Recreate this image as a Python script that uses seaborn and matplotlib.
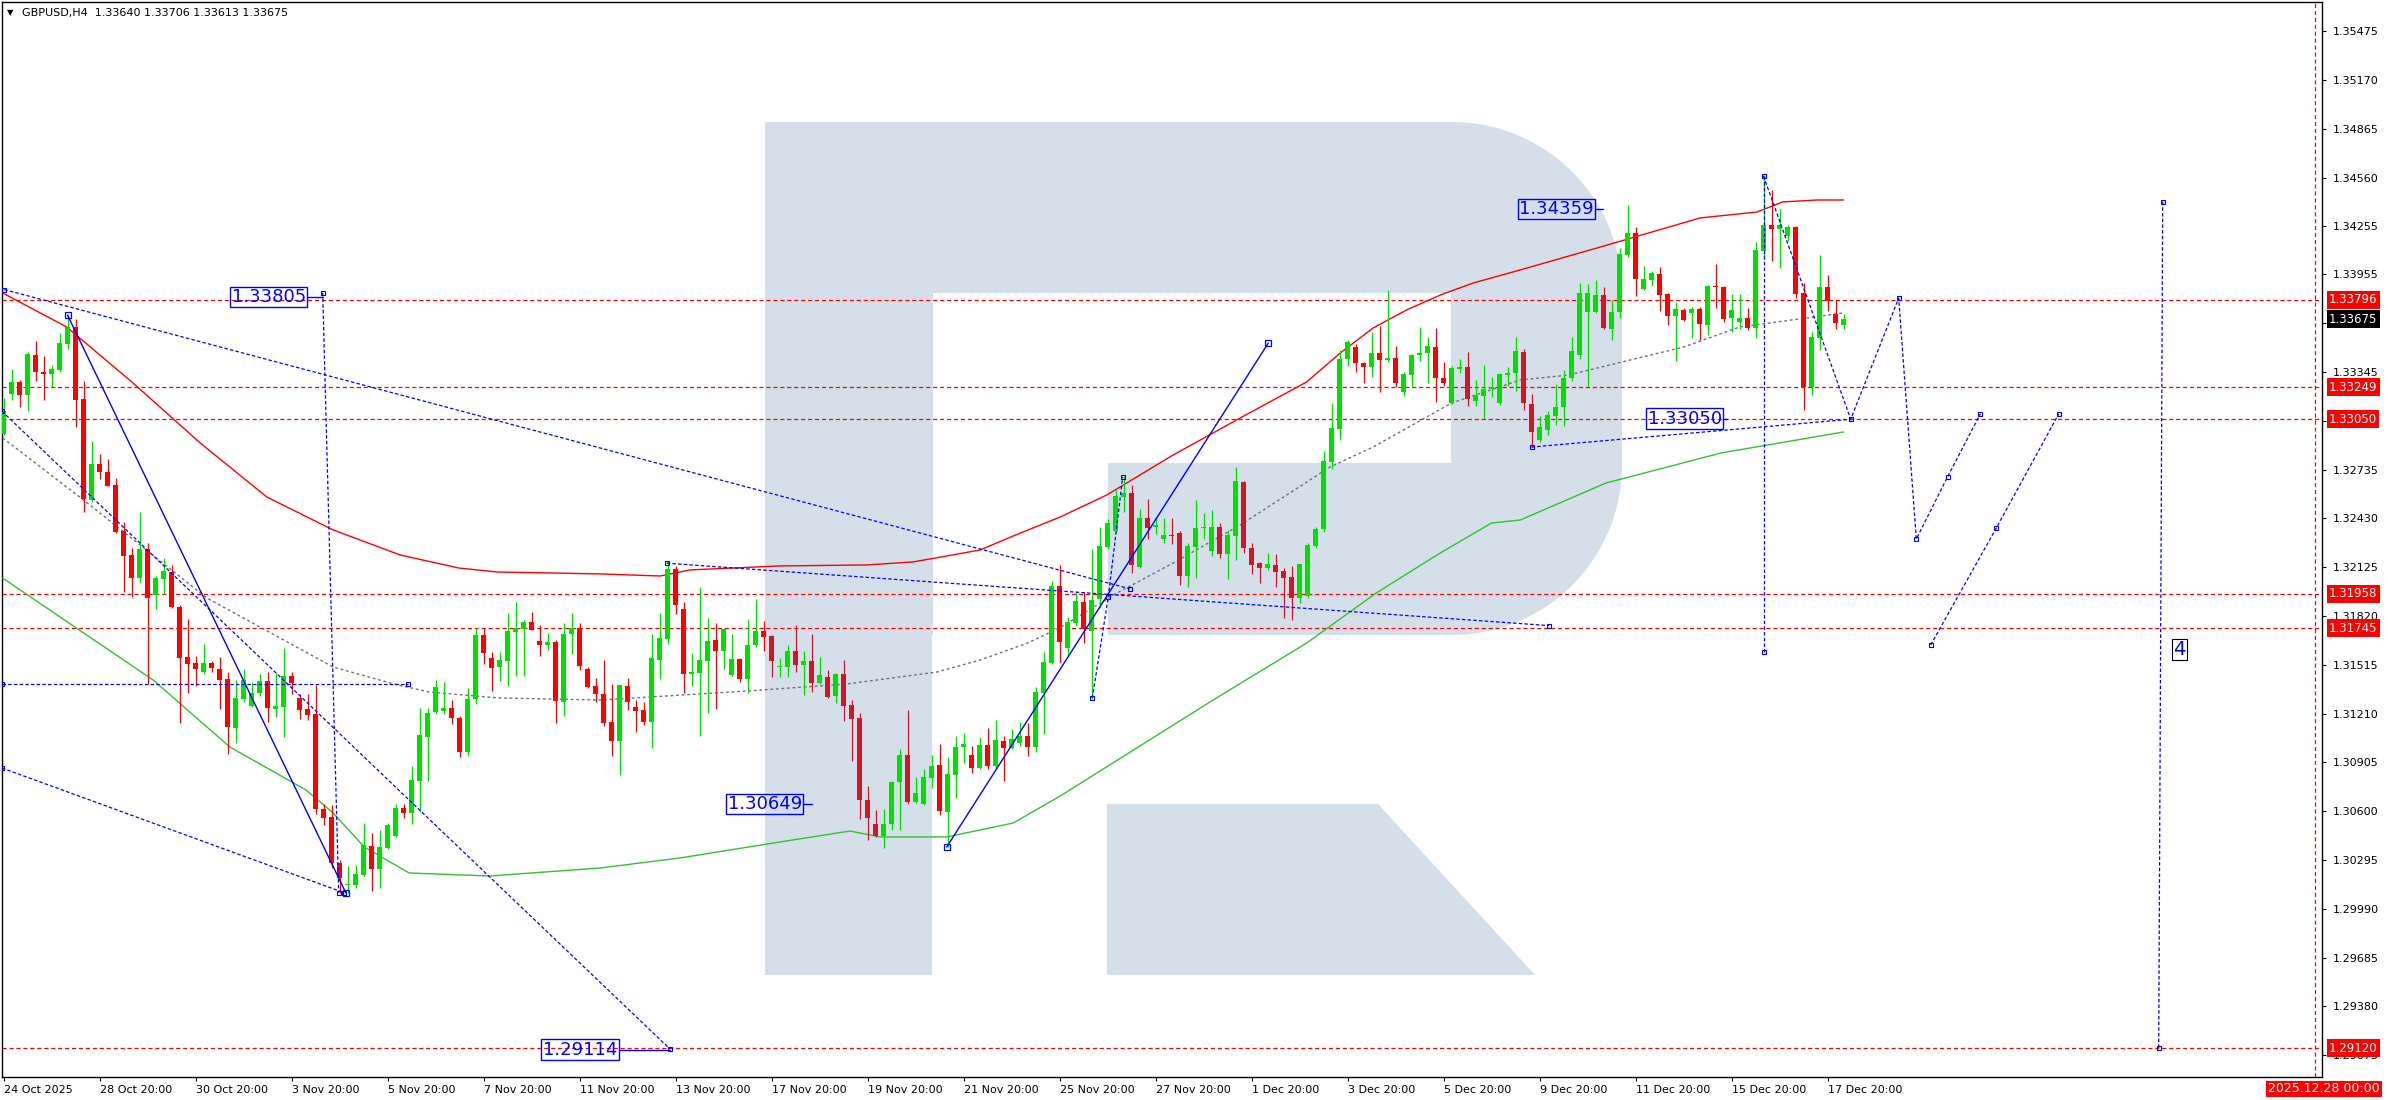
import numpy as np
import matplotlib
matplotlib.use("Agg")
import matplotlib.pyplot as plt
from matplotlib.patches import Rectangle, Polygon, Wedge
from matplotlib.path import Path
import seaborn as sns

# ---------------- data ----------------
opens = [1.32958, 1.33208, 1.33283, 1.33201, 1.33451, 1.33345, 1.33333, 1.33358, 1.33520, 1.33626,
         1.33176, 1.32545, 1.32770, 1.32720, 1.32639, 1.32351, 1.32201, 1.32058, 1.32239, 1.31951,
         1.32051, 1.32095, 1.31876, 1.31564, 1.31526, 1.31470, 1.31526, 1.31489, 1.31426, 1.31120,
         1.31301, 1.31258, 1.31339, 1.31414, 1.31239, 1.31251, 1.31445, 1.31308, 1.31239, 1.31208,
         1.30614, 1.30564, 1.30276, 1.30139, 1.30139, 1.30201, 1.30383, 1.30239, 1.30370, 1.30445,
         1.30620, 1.30589, 1.30789, 1.31064, 1.31220, 1.31226, 1.31245, 1.31183, 1.30970, 1.31301,
         1.31701, 1.31558, 1.31501, 1.31539, 1.31720, 1.31739, 1.31783, 1.31664, 1.31639, 1.31658,
         1.31283, 1.31708, 1.31745, 1.31489, 1.31383, 1.31333, 1.31158, 1.31039, 1.31383, 1.31251,
         1.31233, 1.31158, 1.31545, 1.31676, 1.32114, 1.31864, 1.31458, 1.31464, 1.31539, 1.31670,
         1.31601, 1.31451, 1.31551, 1.31426, 1.31639, 1.31726, 1.31695, 1.31501, 1.31501, 1.31601,
         1.31514, 1.31539, 1.31401, 1.31439, 1.31320, 1.31458, 1.31264, 1.31183, 1.30670, 1.30520,
         1.30445, 1.30520, 1.30783, 1.30951, 1.30658, 1.30645, 1.30808, 1.30889, 1.30595, 1.30826,
         1.31001, 1.30951, 1.30870, 1.31014, 1.30883, 1.31039, 1.30995, 1.31026, 1.31070, 1.31001,
         1.31339, 1.31526, 1.32008, 1.31620, 1.31776, 1.31908, 1.31726, 1.31926, 1.32251, 1.32351,
         1.32564, 1.32589, 1.32126, 1.32433, 1.32376, 1.32301, 1.32326, 1.32339, 1.32070, 1.32251,
         1.32370, 1.32226, 1.32376, 1.32208, 1.32320, 1.32658, 1.32245, 1.32151, 1.32120, 1.32139,
         1.32101, 1.32064, 1.31933, 1.31945, 1.32258, 1.32364, 1.32783, 1.32989, 1.33426, 1.33501,
         1.33401, 1.33376, 1.33464, 1.33420, 1.33433, 1.33220, 1.33326, 1.33451, 1.33464, 1.33501,
         1.33308, 1.33151, 1.33364, 1.33376, 1.33164, 1.33195, 1.33239, 1.33151, 1.33326, 1.33339,
         1.33470, 1.33145, 1.32920, 1.32983, 1.33070, 1.33126, 1.33308, 1.33451, 1.33720, 1.33720,
         1.33826, 1.33614, 1.33720, 1.34076, 1.34214, 1.33864, 1.33920, 1.33958, 1.33833, 1.33695,
         1.33733, 1.33714, 1.33739, 1.33639, 1.33883, 1.33876, 1.33683, 1.33658, 1.33683, 1.33620,
         1.34101, 1.34264, 1.34239, 1.34195, 1.34251, 1.33839, 1.33251, 1.33558, 1.33876, 1.33708,
         1.33640]
highs = [1.33183, 1.33364, 1.33295, 1.33470, 1.33539, 1.33445, 1.33389, 1.33589, 1.33701, 1.33676,
         1.33289, 1.32914, 1.32833, 1.32801, 1.32683, 1.32408, 1.32245, 1.32470, 1.32276, 1.32070,
         1.32183, 1.32139, 1.31889, 1.31801, 1.31570, 1.31645, 1.31539, 1.31564, 1.31470, 1.31420,
         1.31489, 1.31408, 1.31458, 1.31470, 1.31464, 1.31620, 1.31470, 1.31333, 1.31333, 1.31389,
         1.30645, 1.30639, 1.30295, 1.30258, 1.30264, 1.30526, 1.30464, 1.30483, 1.30526, 1.30645,
         1.30645, 1.30883, 1.31245, 1.31245, 1.31420, 1.31408, 1.31295, 1.31195, 1.31370, 1.31745,
         1.31745, 1.31595, 1.31595, 1.31839, 1.31908, 1.31795, 1.31845, 1.31764, 1.31714, 1.31670,
         1.31776, 1.31839, 1.31776, 1.31501, 1.31433, 1.31545, 1.31395, 1.31389, 1.31433, 1.31295,
         1.31283, 1.31708, 1.31839, 1.32164, 1.32133, 1.31908, 1.31589, 1.32001, 1.31808, 1.31776,
         1.31745, 1.31708, 1.31558, 1.31801, 1.31926, 1.31789, 1.31701, 1.31558, 1.31639, 1.31764,
         1.31601, 1.31708, 1.31564, 1.31483, 1.31464, 1.31545, 1.31295, 1.31214, 1.30758, 1.30608,
         1.30614, 1.30789, 1.30989, 1.31233, 1.30814, 1.30864, 1.30951, 1.31020, 1.30939, 1.31070,
         1.31089, 1.31008, 1.31064, 1.31120, 1.31170, 1.31070, 1.31114, 1.31158, 1.31151, 1.31376,
         1.31595, 1.32039, 1.32139, 1.31814, 1.31976, 1.31970, 1.32239, 1.32376, 1.32426, 1.32608,
         1.32695, 1.32639, 1.32489, 1.32551, 1.32439, 1.32433, 1.32433, 1.32351, 1.32276, 1.32545,
         1.32464, 1.32483, 1.32401, 1.32358, 1.32751, 1.32664, 1.32276, 1.32158, 1.32214, 1.32208,
         1.32120, 1.32133, 1.32145, 1.32276, 1.32376, 1.32851, 1.33151, 1.33483, 1.33545, 1.33520,
         1.33408, 1.33595, 1.33633, 1.33858, 1.33508, 1.33345, 1.33458, 1.33626, 1.33564, 1.33620,
         1.33408, 1.33383, 1.33426, 1.33470, 1.33295, 1.33389, 1.33314, 1.33339, 1.33376, 1.33564,
         1.33489, 1.33208, 1.33070, 1.33101, 1.33270, 1.33358, 1.33564, 1.33901, 1.33895, 1.33920,
         1.33876, 1.33795, 1.34120, 1.34389, 1.34251, 1.34008, 1.33976, 1.34001, 1.33839, 1.33783,
         1.33745, 1.33751, 1.33751, 1.33889, 1.34020, 1.33883, 1.33833, 1.33833, 1.33745, 1.34158,
         1.34570, 1.34483, 1.34364, 1.34264, 1.34258, 1.33901, 1.33595, 1.34076, 1.33951, 1.33795,
         1.33706]
lows = [1.32950, 1.33170, 1.33126, 1.33101, 1.33289, 1.33170, 1.33251, 1.33345, 1.33489, 1.33001,
        1.32470, 1.32533, 1.32676, 1.32630, 1.32339, 1.31970, 1.31939, 1.32026, 1.31395, 1.31864,
        1.31958, 1.31870, 1.31151, 1.31339, 1.31383, 1.31458, 1.31470, 1.31239, 1.30958, 1.31026,
        1.31283, 1.31251, 1.31320, 1.31158, 1.31189, 1.31064, 1.31333, 1.31176, 1.31170, 1.30583,
        1.30514, 1.30245, 1.30089, 1.30089, 1.30120, 1.30195, 1.30101, 1.30120, 1.30364, 1.30439,
        1.30558, 1.30520, 1.30595, 1.30789, 1.31208, 1.31208, 1.31145, 1.30939, 1.30945, 1.31270,
        1.31520, 1.31351, 1.31414, 1.31383, 1.31445, 1.31445, 1.31730, 1.31570, 1.31608, 1.31151,
        1.31195, 1.31583, 1.31483, 1.31370, 1.31283, 1.31133, 1.30945, 1.30826, 1.31233, 1.31095,
        1.31139, 1.30995, 1.31426, 1.31645, 1.31833, 1.31339, 1.31383, 1.31070, 1.31214, 1.31239,
        1.31489, 1.31445, 1.31408, 1.31339, 1.31626, 1.31601, 1.31439, 1.31439, 1.31439, 1.31470,
        1.31326, 1.31345, 1.31395, 1.31308, 1.31276, 1.31164, 1.30914, 1.30551, 1.30420, 1.30440,
        1.30370, 1.30483, 1.30483, 1.30645, 1.30651, 1.30640, 1.30745, 1.30576, 1.30376, 1.30683,
        1.30901, 1.30839, 1.30864, 1.30864, 1.30864, 1.30789, 1.30990, 1.31008, 1.30945, 1.30970,
        1.31083, 1.31520, 1.31526, 1.31564, 1.31758, 1.31651, 1.31301, 1.31870, 1.32239, 1.32345,
        1.32470, 1.32089, 1.32120, 1.32301, 1.32333, 1.32276, 1.32270, 1.32014, 1.32001, 1.32058,
        1.32301, 1.32195, 1.32183, 1.32051, 1.32170, 1.32214, 1.32083, 1.32026, 1.32108, 1.32001,
        1.31808, 1.31795, 1.31901, 1.31935, 1.32245, 1.32345, 1.32739, 1.32920, 1.33383, 1.33345,
        1.33276, 1.33314, 1.33220, 1.33408, 1.33251, 1.33195, 1.33251, 1.33414, 1.33276, 1.33158,
        1.33258, 1.33145, 1.33339, 1.33133, 1.33133, 1.33058, 1.33189, 1.33139, 1.33258, 1.33226,
        1.33108, 1.32876, 1.32908, 1.32951, 1.33014, 1.33008, 1.33289, 1.33426, 1.33258, 1.33715,
        1.33614, 1.33545, 1.33683, 1.34064, 1.33820, 1.33858, 1.33883, 1.33726, 1.33639, 1.33414,
        1.33665, 1.33558, 1.33545, 1.33576, 1.33745, 1.33658, 1.33595, 1.33614, 1.33608, 1.33558,
        1.34058, 1.34039, 1.33995, 1.34164, 1.33808, 1.33108, 1.33201, 1.33483, 1.33726, 1.33614,
        1.33613]
closes = [1.33101, 1.33283, 1.33201, 1.33458, 1.33345, 1.33333, 1.33364, 1.33526, 1.33626, 1.33170,
          1.32551, 1.32770, 1.32720, 1.32633, 1.32345, 1.32195, 1.32058, 1.32239, 1.31933, 1.32058,
          1.32101, 1.31876, 1.31558, 1.31520, 1.31489, 1.31526, 1.31495, 1.31420, 1.31126, 1.31308,
          1.31420, 1.31339, 1.31414, 1.31245, 1.31258, 1.31445, 1.31401, 1.31233, 1.31201, 1.30614,
          1.30558, 1.30276, 1.30183, 1.30145, 1.30208, 1.30389, 1.30239, 1.30376, 1.30514, 1.30620,
          1.30589, 1.30795, 1.31076, 1.31214, 1.31376, 1.31245, 1.31183, 1.30970, 1.31301, 1.31701,
          1.31589, 1.31495, 1.31545, 1.31726, 1.31745, 1.31783, 1.31733, 1.31639, 1.31658, 1.31289,
          1.31708, 1.31745, 1.31508, 1.31376, 1.31333, 1.31151, 1.31039, 1.31389, 1.31283, 1.31226,
          1.31158, 1.31558, 1.31683, 1.32114, 1.31889, 1.31458, 1.31470, 1.31545, 1.31664, 1.31601,
          1.31739, 1.31551, 1.31426, 1.31639, 1.31726, 1.31689, 1.31539, 1.31508, 1.31601, 1.31514,
          1.31539, 1.31401, 1.31451, 1.31314, 1.31458, 1.31258, 1.31176, 1.30670, 1.30558, 1.30445,
          1.30520, 1.30783, 1.30951, 1.30658, 1.30714, 1.30814, 1.30883, 1.30601, 1.30833, 1.31001,
          1.31020, 1.30870, 1.31014, 1.30883, 1.31045, 1.30995, 1.31051, 1.31070, 1.31001, 1.31345,
          1.31533, 1.32008, 1.31658, 1.31783, 1.31914, 1.31739, 1.31920, 1.32258, 1.32401, 1.32570,
          1.32589, 1.32139, 1.32433, 1.32370, 1.32389, 1.32326, 1.32320, 1.32070, 1.32258, 1.32370,
          1.32376, 1.32376, 1.32208, 1.32326, 1.32664, 1.32245, 1.32139, 1.32120, 1.32145, 1.32095,
          1.32058, 1.31933, 1.32145, 1.32264, 1.32364, 1.32789, 1.32995, 1.33426, 1.33533, 1.33401,
          1.33376, 1.33464, 1.33420, 1.33433, 1.33276, 1.33333, 1.33451, 1.33464, 1.33508, 1.33308,
          1.33276, 1.33370, 1.33376, 1.33176, 1.33201, 1.33239, 1.33251, 1.33333, 1.33339, 1.33476,
          1.33151, 1.32970, 1.33001, 1.33076, 1.33126, 1.33308, 1.33476, 1.33839, 1.33839, 1.33826,
          1.33620, 1.33720, 1.34083, 1.34214, 1.33926, 1.33926, 1.33964, 1.33826, 1.33695, 1.33739,
          1.33670, 1.33739, 1.33645, 1.33883, 1.33876, 1.33676, 1.33733, 1.33683, 1.33620, 1.34108,
          1.34264, 1.34239, 1.34264, 1.34251, 1.33833, 1.33251, 1.33564, 1.33876, 1.33789, 1.33651,
          1.33675]

# moving averages (bar index, price)
red_ma_x = [-0.1, 7.9, 16.2, 24.6, 32.9, 41.2, 49.6, 56.9, 61.7, 74.6, 82.1, 85.8, 97.1, 107.9, 113.7,
            117.9, 122.1, 126.2, 132.1, 137.9, 146.2, 154.6, 162.9, 167.1, 171.2, 175.4, 179.6, 183.7,
            189.6, 199.6, 212.1, 219.2, 222.4, 226.7, 230.0]
red_ma_y = [1.33839, 1.33626, 1.33276, 1.32901, 1.32564, 1.32358, 1.32201, 1.32120, 1.32095, 1.32083,
            1.32070, 1.32108, 1.32133, 1.32139, 1.32158, 1.32195, 1.32233, 1.32320, 1.32439, 1.32576,
            1.32826, 1.33058, 1.33283, 1.33464, 1.33620, 1.33733, 1.33826, 1.33901, 1.33983, 1.34126,
            1.34308, 1.34345, 1.34408, 1.34420, 1.34420]
green_ma_x = [-0.1, 9.1, 18.7, 28.3, 37.8, 41.2, 45.1, 50.7, 60.8, 74.6, 84.6, 97.1, 105.8, 109.6, 117.9,
              126.2, 132.1, 151.2, 162.9, 171.6, 179.6, 186.0, 189.6, 200.3, 214.7, 230.0]
green_ma_y = [1.32057, 1.31745, 1.31420, 1.31001, 1.30733, 1.30589, 1.30376, 1.30214, 1.30195, 1.30245,
              1.30308, 1.30408, 1.30476, 1.30439, 1.30439, 1.30526, 1.30695, 1.31295, 1.31651, 1.31964,
              1.32214, 1.32401, 1.32420, 1.32651, 1.32839, 1.32970]
grey_ma_x = [-0.1, 10.0, 25.4, 41.2, 48.8, 53.2, 61.8, 74.6, 92.9, 105.4, 116.7, 122.1, 128.0, 132.0,
             139.2, 146.2, 154.6, 165.8, 171.2, 181.0, 189.6, 195.6, 210.0, 217.0, 230.0]
grey_ma_y = [1.32933, 1.32545, 1.31933, 1.31501, 1.31395, 1.31345, 1.31308, 1.31295, 1.31351, 1.31395,
             1.31470, 1.31545, 1.31651, 1.31745, 1.31964, 1.32151, 1.32389, 1.32751, 1.32876, 1.33151,
             1.33295, 1.33326, 1.33501, 1.33626, 1.33714]

# horizontal levels and current price
red_levels = [1.33796, 1.33249, 1.33050, 1.31958, 1.31745, 1.29120]
last_price = 1.33675
future_idx = 288.9
price_ticks = [1.35475, 1.35170, 1.34865, 1.34560, 1.34255, 1.33955, 1.33650, 1.33345, 1.33040,
               1.32735, 1.32430, 1.32125, 1.31820, 1.31515, 1.31210, 1.30905, 1.30600, 1.30295,
               1.29990, 1.29685, 1.29380, 1.29075]
date_labels = ["24 Oct 2025", "28 Oct 20:00", "30 Oct 20:00", "3 Nov 20:00", "5 Nov 20:00",
               "7 Nov 20:00", "11 Nov 20:00", "13 Nov 20:00", "17 Nov 20:00", "19 Nov 20:00",
               "21 Nov 20:00", "25 Nov 20:00", "27 Nov 20:00", "1 Dec 20:00", "3 Dec 20:00",
               "5 Dec 20:00", "9 Dec 20:00", "11 Dec 20:00", "15 Dec 20:00", "17 Dec 20:00"]
date_idx = [0] + [12 * i for i in range(1, 20)]

# wave / trend drawings (bar index, price)
dashed_lines = [
    ([0.1, 140.8], [1.3386, 1.3199]),
    ([82.9, 193.2], [1.3215, 1.3176]),
    ([-0.2, 42.6], [1.3087, 1.3009]),
    ([-0.2, 83.3], [1.3310, 1.29114]),
    ([39.9, 41.9], [1.3384, 1.3009]),
    ([191.0, 230.9], [1.32876, 1.33050]),
    ([220.0, 230.9, 236.9, 239.1, 243.0, 247.1], [1.34570, 1.33050, 1.33807, 1.32301, 1.32689, 1.33083]),
    ([220.1, 220.1], [1.34570, 1.31595]),
    ([240.9, 249.1, 256.9], [1.31639, 1.32370, 1.33083]),
    ([269.9, 269.4], [1.3441, 1.2912]),
    ([136.1, 138.1, 139.9], [1.31307, 1.31939, 1.32689]),
    ([-0.2, 50.5], [1.31395, 1.31395]),
]
solid_lines = [
    ([8.0, 42.8], [1.33701, 1.30089]),
    ([117.9, 158.1], [1.30376, 1.33526]),
]
wave_labels = [("1.33805", 37.8, 1.33814, 39.9), ("1.34359", 198.8, 1.34364, 199.9),
               ("1.33050", 214.8, 1.33054, 215.4), ("1.30649", 99.8, 1.30645, 101.1),
               ("1.29114", 76.7, 1.29110, 83.3)]

GREEN = "#00e000"
RED = "#ff0000"
DARK_RED = "#d2162a"
BLUE = "#0000ff"
LOGO = "#d4dfea"

sns.set_theme(style="white")
plt.rcParams["font.family"] = ["DejaVu Sans"]
plt.rcParams["lines.scale_dashes"] = False

W, H = 2388, 1100
fig = plt.figure(figsize=(W / 100, H / 100), dpi=100)
fig.patch.set_facecolor("white")

# watermark logo, drawn in pixel units on a background layer
bar_path = Path([(765, 122), (932, 122), (932, 975), (765, 975), (765, 122)])
leg_path = Path([(1107, 804), (1378, 804), (1535, 975), (1107, 975), (1107, 804)])
bowl_path = Path([(932, 122), (1452, 122), (1452, 292), (1622, 292), (1622, 465),
                  (1452, 465), (1452, 635), (932, 635), (932, 122)])
hole_path = Path([(933, 293), (1451, 293), (1451, 463), (1108, 463), (1108, 635),
                  (933, 635), (933, 293)])

bg = fig.add_axes([0, 0, 1, 1], zorder=0)
bg.set_xlim(0, W)
bg.set_ylim(H, 0)
bg.axis("off")
bg.add_patch(Rectangle((765, 122), 167, 853, color=LOGO, lw=0))
bg.add_patch(Polygon(bowl_path.vertices, closed=True, color=LOGO, lw=0))
bg.add_patch(Wedge((1452, 292), 170, 270, 360, color=LOGO, lw=0))
bg.add_patch(Wedge((1452, 465), 170, 0, 90, color=LOGO, lw=0))
bg.add_patch(Polygon(hole_path.vertices, closed=True, color="white", lw=0))
bg.add_patch(Polygon(leg_path.vertices, closed=True, color=LOGO, lw=0))


def in_logo(px, py):
    if bar_path.contains_point((px, py)) or leg_path.contains_point((px, py)):
        return True
    if hole_path.contains_point((px, py)):
        return False
    if bowl_path.contains_point((px, py)):
        return True
    for cx, cy, top in ((1452, 292, True), (1452, 465, False)):
        if px >= 1452 and ((py <= cy) if top else (py >= cy)) and (px - cx) ** 2 + (py - cy) ** 2 <= 170 ** 2:
            return True
    return False


ax = fig.add_axes([2 / W, 23 / H, 2320 / W, 1075 / H], zorder=1)
ax.set_facecolor("none")
ax.set_xlim(-0.1875, 289.8125)
ax.set_ylim(1.2893875, 1.356575)

# moving averages
sns.lineplot(x=red_ma_x, y=red_ma_y, ax=ax, color=RED, lw=1.0, sort=False, zorder=3)
sns.lineplot(x=green_ma_x, y=green_ma_y, ax=ax, color="#33c033", lw=1.0, sort=False, zorder=3)
sns.lineplot(x=grey_ma_x, y=grey_ma_y, ax=ax, color="#707070", lw=1.0, sort=False, zorder=3)
ax.lines[-1].set_dashes((2.0, 2.0))

# levels
for lv in red_levels:
    ax.axhline(lv, color=RED, lw=0.9, dashes=(3, 2), zorder=2)
ax.axvline(future_idx, color=RED, lw=0.9, dashes=(3, 2), zorder=2)

# candles
o = np.array(opens); c = np.array(closes); hi = np.array(highs); lo = np.array(lows)
x = np.arange(len(o))
to_px = ax.transData
fig.canvas.draw()
cols = []
for i in range(len(o)):
    if c[i] >= o[i]:
        cols.append(GREEN)
        continue
    dx, dy = to_px.transform((i, (o[i] + c[i]) / 2))
    cols.append(DARK_RED if in_logo(dx, H - dy) else RED)
cols = np.array(cols)
ax.vlines(x, np.minimum(lo, np.minimum(o, c)), np.maximum(hi, np.maximum(o, c)),
          colors=cols, lw=0.9, zorder=5)
ax.bar(x, np.maximum(np.abs(c - o), 0.00005), bottom=np.minimum(o, c), width=0.64,
       color=cols, lw=0, zorder=6)

# wave drawings
for xs, ys in dashed_lines:
    ax.plot(xs, ys, color=BLUE, lw=0.9, dashes=(2.5, 1.6), zorder=7)
    ax.plot(xs, ys, ls="none", marker="s", ms=3.5, mfc="none", mec=BLUE, mew=0.8, zorder=7)
for xs, ys in solid_lines:
    ax.plot(xs, ys, color=BLUE, lw=1.0, zorder=7)
    ax.plot(xs, ys, ls="none", marker="s", ms=4, mfc="none", mec=BLUE, mew=0.9, zorder=7)
for txt, xr, yv, xe in wave_labels:
    ax.text(xr, yv, txt, color=BLUE, fontsize=13, ha="right", va="center", zorder=8,
            bbox=dict(boxstyle="square,pad=0.08", fc="none", ec=BLUE, lw=1.0))
    ax.plot([xr + 0.2, xe], [yv, yv], color=BLUE, lw=1.0, zorder=8)
ax.text(272.0, 1.31611, "4", color=BLUE, fontsize=14, ha="center", va="center", zorder=8,
        bbox=dict(boxstyle="square,pad=0.05", fc="none", ec="black", lw=0.8))

# axes styling
for s in ax.spines.values():
    s.set_color("black")
    s.set_linewidth(1.0)
ax.yaxis.tick_right()
ax.set_yticks(price_ticks)
ax.set_yticklabels([f"{p:.5f}" for p in price_ticks])
ax.tick_params(axis="y", right=True, left=False, length=3, width=0.8, pad=5, labelsize=8,
               colors="black")
ax.set_xticks(date_idx)
ax.set_xticklabels(date_labels)
ax.tick_params(axis="x", bottom=True, length=3, width=0.8, pad=3, labelsize=8, colors="black")
for lab in ax.get_xticklabels():
    lab.set_ha("left")
ax.grid(False)

# price tags on the right axis
for lv in red_levels:
    ax.annotate(f"{lv:.5f}", xy=(1, lv), xycoords=("axes fraction", "data"), xytext=(7, 0),
                textcoords="offset pixels", ha="left", va="center", fontsize=8.5, color="white",
                annotation_clip=False, zorder=10,
                bbox=dict(boxstyle="square,pad=0.2", fc=RED, ec="none"))
ax.annotate(f"{last_price:.5f}", xy=(1, last_price), xycoords=("axes fraction", "data"),
            xytext=(7, 0), textcoords="offset pixels", ha="left", va="center", fontsize=8.5,
            color="white", annotation_clip=False, zorder=10,
            bbox=dict(boxstyle="square,pad=0.2", fc="black", ec="none"))

fig.text(2324 / W, 1 - 1089 / H, "2025.12.28 00:00", ha="center", va="center", fontsize=9,
         color="white", bbox=dict(boxstyle="square,pad=0.15", fc=RED, ec="none"), zorder=10)
fig.text(7 / W, 1 - 13 / H, "\u25bc", fontsize=6, ha="left", va="center", color="black")
fig.text(22 / W, 1 - 13 / H, "GBPUSD,H4  1.33640 1.33706 1.33613 1.33675", fontsize=8,
         ha="left", va="center", color="black")

fig.savefig("out.png", dpi=100, facecolor="white")
